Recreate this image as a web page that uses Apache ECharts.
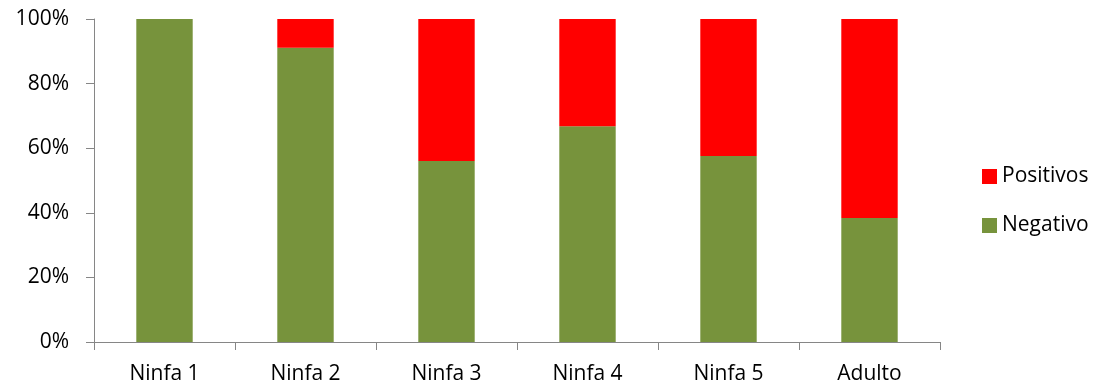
<!DOCTYPE html>
<html>
<head>
<meta charset="utf-8">
<script src="https://cdn.jsdelivr.net/npm/echarts@6/dist/echarts.min.js"></script>
<style>
  html, body { margin: 0; padding: 0; background: #fff; }
  #chart { width: 1107px; height: 389px; }
</style>
</head>
<body>
<div id="chart"></div>
<script>
// Stage categories and share of each result (percent)
const categories = ['Ninfa 1', 'Ninfa 2', 'Ninfa 3', 'Ninfa 4', 'Ninfa 5', 'Adulto'];
const negativo = [100, 91.1, 56.0, 66.8, 57.6, 38.4];
const positivos = [0, 8.9, 44.0, 33.2, 42.4, 61.6];
const yTicks = [0, 20, 40, 60, 80, 100];

const FONT = '"Open Sans", Lato, sans-serif';
const FONT_SIZE = 21;
const axisColor = '#868686';

const chart = echarts.init(document.getElementById('chart'));
chart.setOption({
  animation: false,
  textStyle: { fontFamily: FONT },
  grid: { left: 94, right: 167, top: 19, bottom: 47 },
  legend: {
    orient: 'vertical',
    left: 982,
    top: 166,
    padding: 0,
    itemWidth: 15,
    itemHeight: 15,
    itemGap: 28,
    itemTextGap: 7,
    icon: 'rect',
    data: ['Positivos', 'Negativo'],
    textStyle: { fontSize: FONT_SIZE, color: '#000', fontFamily: FONT }
  },
  xAxis: {
    type: 'category',
    data: categories,
    axisLine: { lineStyle: { color: axisColor, width: 1 } },
    axisTick: { show: true, length: 8, alignWithLabel: false, lineStyle: { color: axisColor } },
    axisLabel: { fontSize: FONT_SIZE, color: '#000', margin: 22, fontFamily: FONT }
  },
  yAxis: {
    type: 'value',
    min: yTicks[0],
    max: yTicks[yTicks.length - 1],
    interval: 20,
    axisLine: { show: true, lineStyle: { color: axisColor, width: 1 } },
    axisTick: { show: true, length: 8, lineStyle: { color: axisColor } },
    splitLine: { show: false },
    axisLabel: { fontSize: FONT_SIZE, color: '#000', margin: 25, fontFamily: FONT, formatter: v => v + '%' }
  },
  series: [
    {
      name: 'Negativo',
      type: 'bar',
      stack: 'total',
      barWidth: '40%',
      itemStyle: { color: '#77933C' },
      data: negativo
    },
    {
      name: 'Positivos',
      type: 'bar',
      stack: 'total',
      barWidth: '40%',
      itemStyle: { color: '#FF0000' },
      data: positivos
    }
  ]
});
</script>
</body>
</html>
